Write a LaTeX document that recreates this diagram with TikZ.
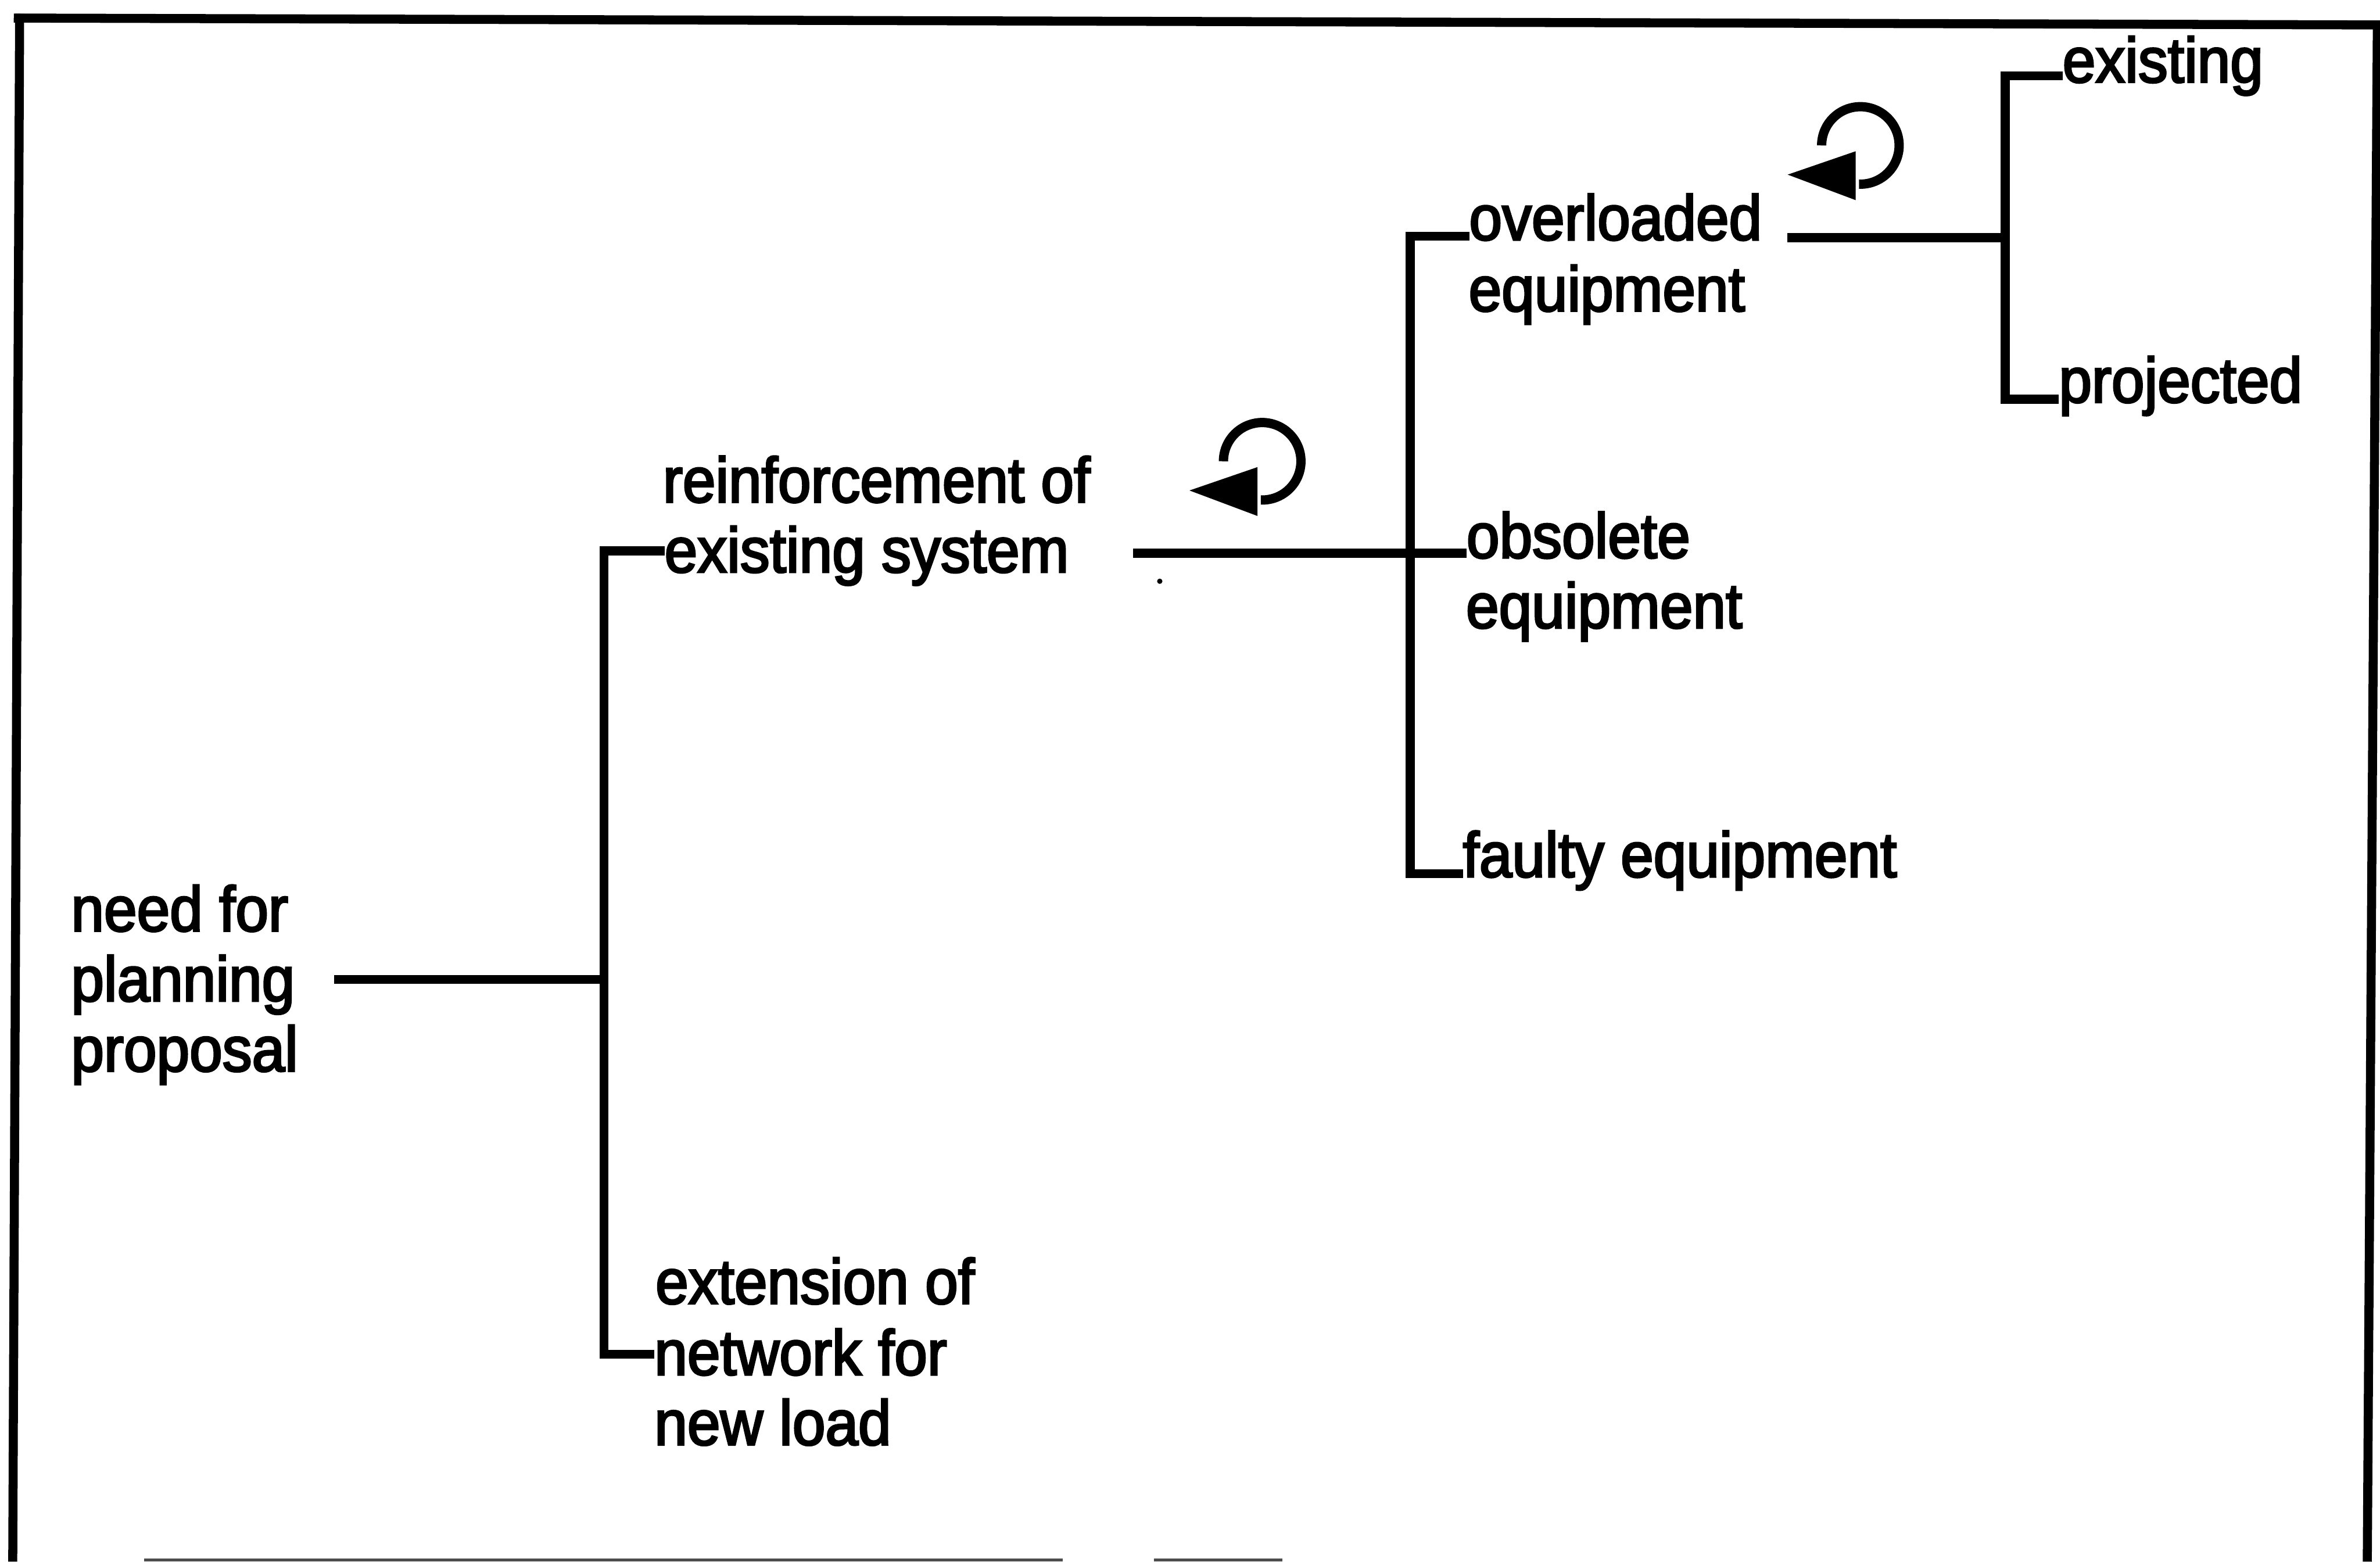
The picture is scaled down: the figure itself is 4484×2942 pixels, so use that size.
\documentclass[tikz,border=0pt]{standalone}
\usepackage{fontspec}
\setmainfont{Liberation Sans}[FakeStretch=0.93,FakeBold=3]
\usetikzlibrary{calc}
\newcommand\lblfont{\fontsize{34.1pt}{38pt}\selectfont}
\tikzset{
  x=0.1mm, y=-0.1mm,
  lbl/.style={anchor=base west, inner sep=0pt, outer sep=0pt, font=\lblfont},
  wire/.style={line width=1.7mm, line cap=butt, line join=miter},
  rim/.style={line width=1.7mm, line cap=butt},
  cyclemark/.pic={
    \draw[line width=1.75mm, line cap=butt] (-73,0) arc[start angle=180, end angle=-92, radius=7.3mm];
    \fill (-137,55) -- (-9,11) -- (-9,103) -- cycle;
  }
}
\begin{document}
\begin{tikzpicture}
\useasboundingbox (0,0) rectangle (4484,2942);
\fill[white] (0,0) rectangle (4484,2942);

% outer frame (open at the bottom)
\draw[rim] (26,34) -- (4484,47);
\draw[rim] (37,26) -- (24,2942);
\draw[rim] (4479,40) -- (4460,2942);
\draw[line width=0.5mm, black!70] (272,2939) -- (2002,2939);
\draw[line width=0.5mm, black!70] (2174,2939) -- (2416,2939);

% labels
\node[lbl] (need1) at (134,1754) {need for};
\node[lbl] (need2) at (134,1886) {planning};
\node[lbl] (need3) at (134,2018) {proposal};
\node[lbl] (reinfA) at (1249,946) {reinforcement of};
\node[lbl] (reinfB) at (1252,1078) {existing system};
\node[lbl] (extA) at (1235,2456) {extension of};
\node[lbl] (extB) at (1233,2590) {network for};
\node[lbl] (extC) at (1233,2722) {new load};
\node[lbl] (overA) at (2768,452) {overloaded};
\node[lbl] (overB) at (2767,586) {equipment};
\node[lbl] (obsA) at (2763,1051) {obsolete};
\node[lbl] (obsB) at (2762,1183) {equipment};
\node[lbl] (faulty) at (2756,1652) {faulty equipment};
\node[lbl] (exist) at (3886,155) {existing};
\node[lbl] (proj) at (3879,758) {projected};

% junction points
\coordinate (rootout) at (630,1845);
\coordinate (j1) at (1138,1845);
\coordinate (j1t) at (1138,1038);
\coordinate (j1b) at (1138,2551);
\coordinate (sysout) at (2135,1042);
\coordinate (j2) at (2657,1042);
\coordinate (j2t) at (2657,445);
\coordinate (j2b) at (2657,1646);
\coordinate (ovlout) at (3367,448);
\coordinate (j3) at (3778,448);
\coordinate (j3t) at (3778,143);
\coordinate (j3b) at (3778,752);

% first level
\draw[wire] (rootout) -- (j1);
\draw[wire] (j1t -| reinfB.west) -- (j1t) -- (j1b) -- (j1b -| extB.west);

% second level
\draw[wire] (sysout) -- (j2) -- (j2 -| obsA.west);
\draw[wire] (j2t -| overA.west) -- (j2t) -- (j2b) -- (j2b -| faulty.west);

% third level
\draw[wire] (ovlout) -- (j3);
\draw[wire] (j3t -| exist.west) -- (j3t) -- (j3b) -- (j3b -| proj.west);

% repeat markers
\pic at (2378,869) {cyclemark};
\pic at (3505,274) {cyclemark};

\fill (2185,1095) circle[radius=0.5mm];
\end{tikzpicture}
\end{document}
